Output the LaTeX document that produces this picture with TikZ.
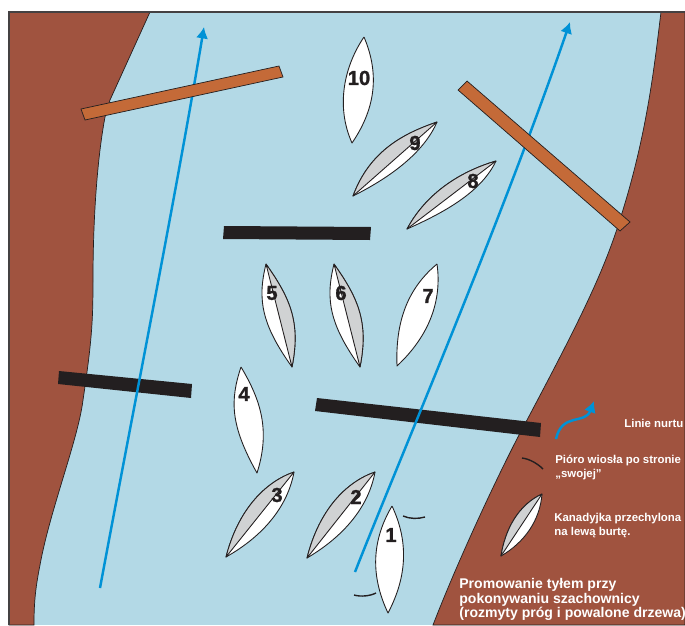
\documentclass[tikz,border=0pt]{standalone}
\usepackage{fontspec}
\setmainfont{Liberation Sans}
\newfontfamily\numfont{Liberation Sans}[BoldFeatures={FakeBold=1.2}]
\usetikzlibrary{arrows.meta}
\definecolor{bank}{RGB}{160,83,63}
\definecolor{river}{RGB}{179,217,230}
\definecolor{log}{RGB}{196,106,56}
\definecolor{stream}{RGB}{0,146,214}
\definecolor{ink}{RGB}{35,31,32}
\definecolor{hull}{RGB}{208,210,211}
\tikzset{
    boat/.style={draw=ink, fill=white, line width=0.5pt, line join=round},
    side/.style={draw=ink, fill=hull, line width=0.5pt, line join=round},
    shore/.style={draw=ink, fill=bank, line width=0.4pt},
    rock/.style={fill=ink},
    tree/.style={draw=ink, fill=log, line width=0.4pt},
    current/.style={draw=stream, line width=1.4pt, -{Latex[length=6.5pt,width=7pt]}},
    blade/.style={draw=ink, line width=0.8pt},
    num/.style={font=\numfont\bfseries\fontsize{11.5}{12}\selectfont, text=ink, inner sep=0pt},
    note/.style={font=\bfseries\fontsize{6.5}{7.8}\selectfont, text=white, align=left, inner sep=0pt, anchor=north west},
    title/.style={font=\bfseries\fontsize{8}{8.3}\selectfont, text=white, align=left, inner sep=0pt, anchor=north west}
}
\begin{document}
\begin{tikzpicture}[x=0.02cm, y=-0.02cm]
    \useasboundingbox (0,0) rectangle (685,625);
    \fill[white] (0,0) rectangle (685,625);
    % rzeka i brzegi
    \fill[river] (9,12) rectangle (685,625);
    \draw[shore] (9,12) -- (150,12) -- (110,100) -- (105,117) .. controls (97,160) and (93,220) .. (93,280)
        .. controls (93,320) and (92,340) .. (83,400) .. controls (78,440) and (50,510) .. (40,565)
        .. controls (35,590) and (34,605) .. (34,625) -- (9,625) -- cycle;
    \draw[shore] (661,12) .. controls (655,60) and (648,130) .. (622,213) .. controls (605,270) and (580,320) .. (527,420)
        .. controls (505,460) and (460,555) .. (433,625) -- (685,625) -- (685,12) -- cycle;
    \draw[ink!85, line width=1pt] (9,625) -- (9,12) -- (685,12);
    % progi
    \fill[rock] (224,226) -- (371,227) -- (370,240) -- (223,239) -- cycle;
    \fill[rock] (59,371) -- (192,384) -- (191,398) -- (58,384) -- cycle;
    \fill[rock] (317,398) -- (541,423) -- (540,437) -- (315,411) -- cycle;
    % linie nurtu
    \coordinate (s1) at (100,588);
    \coordinate (e1) at (204,27);
    \coordinate (s2) at (355,572);
    \coordinate (e2) at (570,22);
    \draw[current] (s1) .. controls (135,400) and (175,200) .. (e1);
    \draw[current] (s2) .. controls (395,470) and (500,225) .. (e2);
    % drzewa
    \draw[tree] (81,109) -- (279,66) -- (283,77) -- (85,120) -- cycle;
    \draw[tree] (467,81) -- (630,222) -- (620,231) -- (458,90) -- cycle;
    % kanadyjki
    \draw[boat] (364,37) .. controls (345,65) and (335,105) .. (352,143) .. controls (378,105) and (378,70) .. (364,37);
    \draw[boat] (437,122) .. controls (405,133) and (370,150) .. (353,196) .. controls (395,175) and (425,150) .. (437,122);
    \draw[side] (437,122) .. controls (405,133) and (370,150) .. (353,196) -- cycle;
    \draw[boat] (496,161) .. controls (465,170) and (428,190) .. (407,229) .. controls (450,210) and (482,190) .. (496,161);
    \draw[side] (496,161) .. controls (465,170) and (428,190) .. (407,229) -- cycle;
    \draw[boat] (266,264) .. controls (257,300) and (262,325) .. (292,367) .. controls (301,322) and (290,298) .. (266,264);
    \draw[side] (266,264) .. controls (290,298) and (301,322) .. (292,367) -- cycle;
    \draw[boat] (334,264) .. controls (325,300) and (330,325) .. (360,367) .. controls (369,322) and (358,298) .. (334,264);
    \draw[side] (334,264) .. controls (358,298) and (369,322) .. (360,367) -- cycle;
    \draw[boat] (437,264) .. controls (412,285) and (395,315) .. (397,366) .. controls (430,335) and (442,300) .. (437,264);
    \draw[boat] (241,367) .. controls (230,400) and (230,425) .. (257,473) .. controls (270,432) and (262,402) .. (241,367);
    \draw[boat] (294,472) .. controls (265,482) and (238,510) .. (226,557) .. controls (265,535) and (288,505) .. (294,472);
    \draw[side] (294,472) .. controls (265,482) and (238,510) .. (226,557) -- cycle;
    \draw[boat] (375,472) .. controls (346,482) and (319,510) .. (307,558) .. controls (346,535) and (369,505) .. (375,472);
    \draw[side] (375,472) .. controls (346,482) and (319,510) .. (307,558) -- cycle;
    \draw[boat] (392,506) .. controls (372,540) and (370,575) .. (388,613) .. controls (408,575) and (408,540) .. (392,506);
    \draw[boat] (542,494) .. controls (518,505) and (505,530) .. (501,556) .. controls (525,542) and (540,520) .. (542,494);
    \draw[side] (542,494) .. controls (518,505) and (505,530) .. (501,556) -- cycle;
    % numery
    \node[num] (n1) at (391,535) {1};
    \node[num] (n2) at (356,497) {2};
    \node[num] (n3) at (277,495) {3};
    \node[num] (n4) at (244,394) {4};
    \node[num] (n5) at (272,293) {5};
    \node[num] (n6) at (341,293) {6};
    \node[num] (n7) at (428,296) {7};
    \node[num] (n8) at (473,181) {8};
    \node[num] (n9) at (415,143) {9};
    \node[num] (n10) at (359,78) {10};
    % piora wiosel
    \draw[blade] (403,516) .. controls (410,519) and (418,519) .. (425,517);
    \draw[blade] (354,595) .. controls (361,597) and (370,596) .. (376,593);
    \draw[blade] (522,458) .. controls (530,459) and (538,464) .. (543,469);
    % legenda
    \coordinate (s3) at (556,439);
    \coordinate (e3) at (594,401);
    \draw[current] (s3) .. controls (562,412) and (585,425) .. (e3);
    \node[note] (linie) at (624,419) {Linie nurtu};
    \node[note] (pioro) at (555,455) {Pióro wiosła po stronie\\„swojej"};
    \node[note] (kanu) at (554,513) {Kanadyjka przechylona\\na lewą burtę.};
    \node[title] (tytul) at (459,578) {Promowanie tyłem przy\\pokonywaniu szachownicy\\(rozmyty próg i powalone drzewa)};
\end{tikzpicture}
\end{document}
